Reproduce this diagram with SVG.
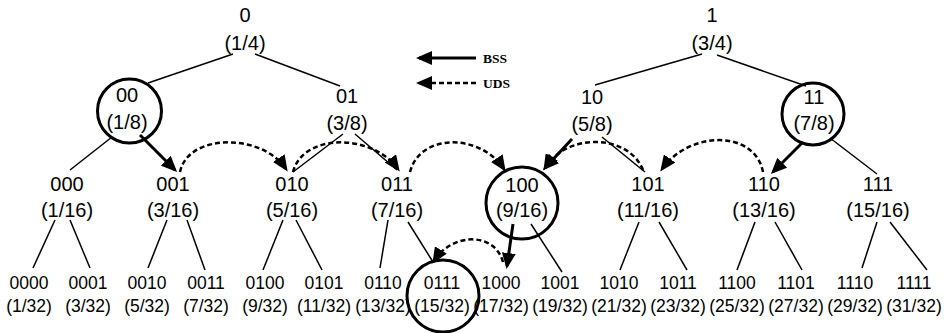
<svg xmlns="http://www.w3.org/2000/svg" width="952" height="333" viewBox="0 0 952 333">
<defs>
<marker id="ah" markerUnits="userSpaceOnUse" markerWidth="16" markerHeight="14" refX="13" refY="7" orient="auto"><path d="M0,0 L16,7 L0,14 z" fill="#000"/></marker>
</defs>
<style>
text{font-family:"Liberation Sans",Arial,sans-serif;fill:#000;text-anchor:middle}
.t{font-size:20px}
.s{font-size:17.5px}
.lg{font-family:"Liberation Serif","Times New Roman",serif;font-size:13.5px;font-weight:bold;text-anchor:start}
.e{stroke:#000;stroke-width:1.5;fill:none}
.b{stroke:#000;stroke-width:3;fill:none;marker-end:url(#ah)}
.u{stroke:#000;stroke-width:2.5;fill:none;stroke-dasharray:5 3;marker-end:url(#ah)}
.c{stroke:#000;stroke-width:3;fill:none}
</style>
<rect width="952" height="333" fill="#fff"/>
<g id="legend">
<path class="b" d="M476,58 L419,58"/>
<path class="u" d="M476,83 L419,83"/>
<text class="lg" x="483" y="63">BSS</text>
<text class="lg" x="483" y="88">UDS</text>
</g>
<g id="connectors">
<path class="e" d="M233,54 L148,83"/>
<path class="e" d="M255,54 L340,86"/>
<path class="e" d="M702,54 L595,85"/>
<path class="e" d="M717,55 L806,86"/>
<path class="e" d="M112,137 L70,170"/>
<path class="b" d="M140,135 L175,170"/>
<path class="e" d="M343,134 L293,172"/>
<path class="e" d="M355,134 L397,170"/>
<path class="b" d="M572,139 L545,168"/>
<path class="e" d="M602,137 L645,172"/>
<path class="b" d="M803,142 L773,172"/>
<path class="e" d="M830,138 L877,174"/>
<path class="e" d="M55,220 L33,268"/>
<path class="e" d="M70,220 L90,268"/>
<path class="e" d="M167,220 L148,268"/>
<path class="e" d="M187,220 L205,270"/>
<path class="e" d="M283,220 L263,270"/>
<path class="e" d="M296,220 L322,270"/>
<path class="e" d="M388,220 L380,268"/>
<path class="e" d="M408,222 L433,262"/>
<path class="b" d="M513,224 L507,266"/>
<path class="e" d="M531,224 L562,272"/>
<path class="e" d="M639,222 L620,270"/>
<path class="e" d="M659,222 L687,270"/>
<path class="e" d="M755,222 L737,270"/>
<path class="e" d="M775,222 L802,270"/>
<path class="e" d="M877,222 L862,268"/>
<path class="e" d="M890,222 L927,270"/>
<path class="u" d="M180,172 C188,133 262,133 286,169"/>
<path class="u" d="M293,172 C303,133 372,133 398,169"/>
<path class="u" d="M410,172 C420,133 480,133 504,169"/>
<path class="u" d="M643,170 C628,133 566,133 545,168"/>
<path class="u" d="M763,172 C755,130 690,130 662,169"/>
<path class="u" d="M503,262 C495,232 452,232 434,261"/>
</g>
<g id="n0"><text class="t" x="245" y="22">0</text><text class="t" x="245" y="50">(1/4)</text></g>
<g id="n1"><text class="t" x="712" y="22">1</text><text class="t" x="712" y="50">(3/4)</text></g>
<g id="n00"><circle class="c" cx="129.5" cy="111" r="32"/><text class="t" x="127" y="102">00</text><text class="t" x="127" y="129">(1/8)</text></g>
<g id="n01"><text class="t" x="347" y="103">01</text><text class="t" x="347" y="130">(3/8)</text></g>
<g id="n10"><text class="t" x="592" y="104">10</text><text class="t" x="592" y="131">(5/8)</text></g>
<g id="n11"><circle class="c" cx="813" cy="114" r="31"/><text class="t" x="814" y="104">11</text><text class="t" x="814" y="130">(7/8)</text></g>
<g id="n000"><text class="t" x="67" y="191">000</text><text class="t" x="67" y="217">(1/16)</text></g>
<g id="n001"><text class="t" x="173" y="191">001</text><text class="t" x="173" y="217">(3/16)</text></g>
<g id="n010"><text class="t" x="292" y="191">010</text><text class="t" x="292" y="217">(5/16)</text></g>
<g id="n011"><text class="t" x="397" y="191">011</text><text class="t" x="397" y="217">(7/16)</text></g>
<g id="n100"><circle class="c" cx="522" cy="203" r="36"/><text class="t" x="522" y="192">100</text><text class="t" x="522" y="217">(9/16)</text></g>
<g id="n101"><text class="t" x="648" y="191">101</text><text class="t" x="648" y="217">(11/16)</text></g>
<g id="n110"><text class="t" x="764" y="191">110</text><text class="t" x="764" y="217">(13/16)</text></g>
<g id="n111"><text class="t" x="878" y="191">111</text><text class="t" x="878" y="217">(15/16)</text></g>
<g id="n0000"><text class="s" x="29" y="289">0000</text><text class="s" x="29" y="312">(1/32)</text></g>
<g id="n0001"><text class="s" x="88" y="289">0001</text><text class="s" x="88" y="312">(3/32)</text></g>
<g id="n0010"><text class="s" x="147" y="289">0010</text><text class="s" x="147" y="312">(5/32)</text></g>
<g id="n0011"><text class="s" x="206" y="289">0011</text><text class="s" x="206" y="312">(7/32)</text></g>
<g id="n0100"><text class="s" x="265" y="289">0100</text><text class="s" x="265" y="312">(9/32)</text></g>
<g id="n0101"><text class="s" x="324" y="289">0101</text><text class="s" x="324" y="312">(11/32)</text></g>
<g id="n0110"><text class="s" x="383" y="289">0110</text><text class="s" x="383" y="312">(13/32)</text></g>
<g id="n0111"><circle class="c" cx="443" cy="296" r="36"/><text class="s" x="442" y="289">0111</text><text class="s" x="442" y="312">(15/32)</text></g>
<g id="n1000"><text class="s" x="501" y="289">1000</text><text class="s" x="501" y="312">(17/32)</text></g>
<g id="n1001"><text class="s" x="560" y="289">1001</text><text class="s" x="560" y="312">(19/32)</text></g>
<g id="n1010"><text class="s" x="619" y="289">1010</text><text class="s" x="619" y="312">(21/32)</text></g>
<g id="n1011"><text class="s" x="678" y="289">1011</text><text class="s" x="678" y="312">(23/32)</text></g>
<g id="n1100"><text class="s" x="737" y="289">1100</text><text class="s" x="737" y="312">(25/32)</text></g>
<g id="n1101"><text class="s" x="796" y="289">1101</text><text class="s" x="796" y="312">(27/32)</text></g>
<g id="n1110"><text class="s" x="855" y="289">1110</text><text class="s" x="855" y="312">(29/32)</text></g>
<g id="n1111"><text class="s" x="914" y="289">1111</text><text class="s" x="914" y="312">(31/32)</text></g>
</svg>
